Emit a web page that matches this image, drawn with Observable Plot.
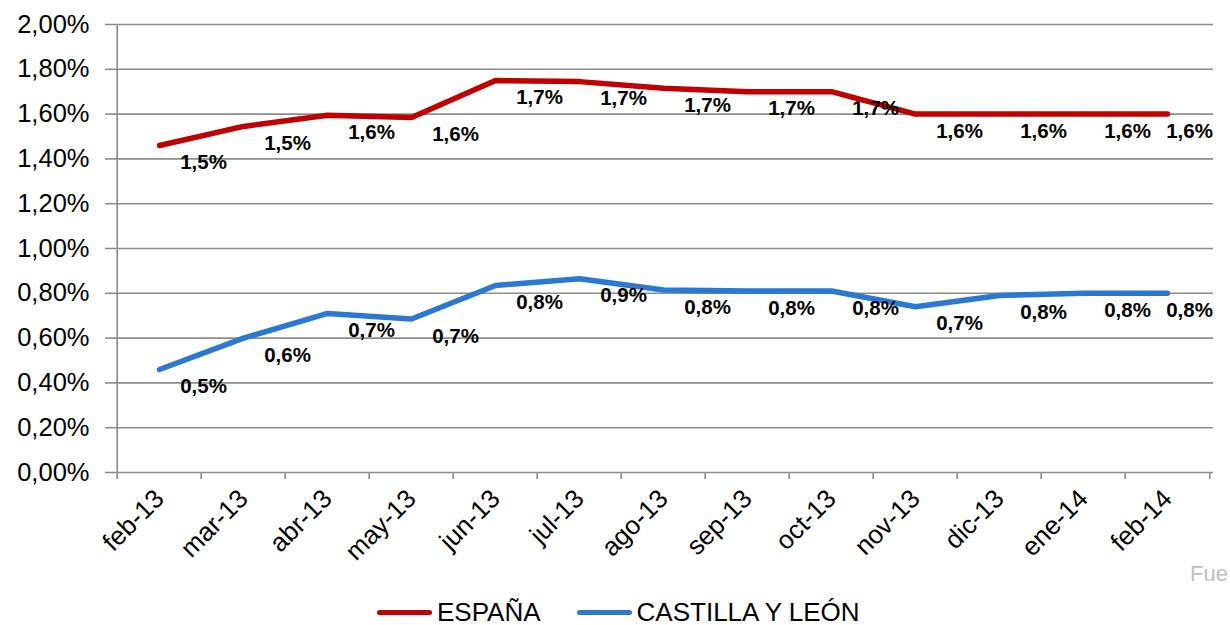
<!DOCTYPE html>
<html>
<head>
<meta charset="utf-8">
<script src="https://cdn.jsdelivr.net/npm/d3@7"></script>
<script src="https://cdn.jsdelivr.net/npm/@observablehq/plot@0.6"></script>
<style>
  html, body { margin: 0; padding: 0; background: #fff; }
  body { width: 1230px; height: 625px; overflow: hidden; position: relative;
         font-family: "Liberation Sans", Arial, sans-serif; }
  #chart { position: absolute; left: 0; top: 0; }
  #legend { position: absolute; left: 377px; top: 597px; display: flex; align-items: center;
            font-size: 26px; color: #000; white-space: nowrap; }
  .item { display: flex; align-items: center; margin-right: 36px; }
  .swatch { width: 55px; height: 5px; border-radius: 3px; margin-right: 5px; }
  #source { position: absolute; left: 1190px; top: 561px; color: #bfbfbf; font-size: 22px; white-space: nowrap; }
</style>
</head>
<body>
<div id="chart"></div>
<div id="legend"></div>
<div id="source">Fue</div>
<script>
// ---- data ----
const months = ["feb-13","mar-13","abr-13","may-13","jun-13","jul-13","ago-13","sep-13","oct-13","nov-13","dic-13","ene-14","feb-14"];
const espana = [1.46, 1.545, 1.595, 1.585, 1.75, 1.745, 1.715, 1.70, 1.70, 1.60, 1.60, 1.60, 1.60];
const cyl    = [0.46, 0.60, 0.71, 0.685, 0.835, 0.865, 0.815, 0.81, 0.81, 0.74, 0.79, 0.80, 0.80];
const espanaLabels = ["1,5%","1,5%","1,6%","1,6%","1,7%","1,7%","1,7%","1,7%","1,7%","1,6%","1,6%","1,6%","1,6%"];
const cylLabels    = ["0,5%","0,6%","0,7%","0,7%","0,8%","0,9%","0,8%","0,8%","0,8%","0,7%","0,8%","0,8%","0,8%"];
const seriesNames = ["ESPAÑA", "CASTILLA Y LEÓN"];
const seriesColors = ["#c00000", "#2a78d2"];
const yTicks = [0, 0.2, 0.4, 0.6, 0.8, 1.0, 1.2, 1.4, 1.6, 1.8, 2.0];

// ---- table ----
const rows = [];
months.forEach((m, i) => {
  rows.push({month: m, i, serie: seriesNames[0], value: espana[i], label: espanaLabels[i]});
  rows.push({month: m, i, serie: seriesNames[1], value: cyl[i], label: cylLabels[i]});
});

const W = 1230, H = 580, ML = 113, MR = 17, MT = 24, MB = 108;
const step = (W - ML - MR) / months.length;
const gridColor = "#8c8c8c";
const last = months.length - 1;

const chart = Plot.plot({
  width: W, height: H,
  marginLeft: ML, marginRight: MR, marginTop: MT, marginBottom: MB,
  style: { fontFamily: "'Liberation Sans', Arial, sans-serif", fontSize: "24px", color: "#000", background: "#fff" },
  x: { type: "point", domain: months, padding: 0.5, label: null },
  y: { domain: [0, 2], label: null },
  color: { domain: seriesNames, range: seriesColors },
  marks: [
    Plot.gridY(yTicks, { stroke: gridColor, strokeOpacity: 1, strokeWidth: 1.6 }),
    Plot.ruleX([months[0]], { dx: -step / 2, y1: 0, y2: 2, stroke: gridColor, strokeWidth: 1.6 }),
    Plot.ruleX(months, { dx: -step / 2, y1: 0, y2: 0, insetBottom: -7, stroke: gridColor, strokeWidth: 1.6 }),
    Plot.ruleX([months[last]], { dx: step / 2, y1: 0, y2: 0, insetBottom: -7, stroke: gridColor, strokeWidth: 1.6 }),
    Plot.axisY({ ticks: yTicks, tickSize: 8, tickPadding: 16, stroke: gridColor, strokeWidth: 1.6,
                 tickFormat: d => d.toFixed(2).replace(".", ",") + "%", fontSize: 25.5 }),
    Plot.axisX({ tickSize: 0, tickRotate: -45, tickPadding: 22, fontSize: 26 }),
    Plot.line(rows, { x: "month", y: "value", z: "serie", stroke: "serie", strokeWidth: 5.5 }),
    Plot.text(rows, { filter: d => d.i < last, x: "month", y: "value", text: "label", dx: 44, dy: 17,
                      fontWeight: "bold", fontSize: 20.5, fill: "#000" }),
    Plot.text(rows, { filter: d => d.i === last, x: "month", y: "value", text: "label", dx: 22, dy: 17,
                      fontWeight: "bold", fontSize: 20.5, fill: "#000" })
  ]
});
document.getElementById("chart").appendChild(chart);

// ---- legend ----
const legend = document.getElementById("legend");
seriesNames.forEach((name, k) => {
  const item = document.createElement("div");
  item.className = "item";
  const sw = document.createElement("div");
  sw.className = "swatch";
  sw.style.background = seriesColors[k];
  const tx = document.createElement("span");
  tx.textContent = name;
  item.appendChild(sw);
  item.appendChild(tx);
  legend.appendChild(item);
});
</script>
</body>
</html>
